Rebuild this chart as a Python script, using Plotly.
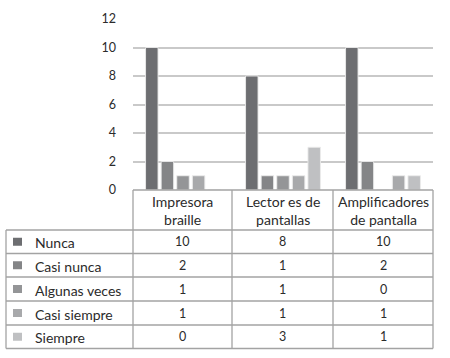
import plotly.graph_objects as go

categories = ["Impresora braille", "Lector es de pantallas", "Amplificadores de pantalla"]
header_labels = ["Impresora<br>braille", "Lector es de<br>pantallas", "Amplificadores<br>de pantalla"]
series_names = ["Nunca", "Casi nunca", "Algunas veces", "Casi siempre", "Siempre"]
nunca = [10, 8, 10]
casi_nunca = [2, 1, 2]
algunas_veces = [1, 1, 0]
casi_siempre = [1, 1, 1]
siempre = [0, 3, 1]
y_ticks = [0, 2, 4, 6, 8, 10, 12]

series_values = [nunca, casi_nunca, algunas_veces, casi_siempre, siempre]
colors = ["#6d6e71", "#848587", "#949597", "#a8a9ab", "#bfc0c2"]

W, H = 450, 358
def px(x):
    return x / W
def py(y):
    return (H - y) / H

FONT = "Lato"
TXT = "#2b2b2b"
LINE = "#a3a3a3"

fig = go.Figure()
for name, vals, c in zip(series_names, series_values, colors):
    fig.add_trace(go.Bar(
        x=categories, y=vals, name=name,
        marker=dict(color=c, line=dict(color="rgba(235,235,235,0.9)", width=1)),
        showlegend=False,
    ))

# table geometry (pixels)
x_left, x_plot, x_end = 6, 133, 433
col_edges = [133, 232, 333, 433]
y_top, y_hdr = 190, 230
row_edges = [230, 253.5, 277, 301, 325, 348.5]

shapes = []
def hline(x0, x1, y):
    shapes.append(dict(type="line", xref="paper", yref="paper",
                       x0=px(x0), x1=px(x1), y0=py(y), y1=py(y),
                       line=dict(color=LINE, width=1.3)))
def vline(x, y0, y1):
    shapes.append(dict(type="line", xref="paper", yref="paper",
                       x0=px(x), x1=px(x), y0=py(y0), y1=py(y1),
                       line=dict(color=LINE, width=1.3)))

hline(x_plot, x_end, y_top)
for ry in row_edges:
    hline(x_left, x_end, ry)
vline(x_left, row_edges[0], row_edges[-1])
for cx in col_edges:
    vline(cx, y_top, row_edges[-1])

annotations = []
# header
for i, lab in enumerate(header_labels):
    cx = (col_edges[i] + col_edges[i + 1]) / 2
    annotations.append(dict(xref="paper", yref="paper", x=px(cx), y=py((y_top + y_hdr) / 2 + 0.5),
                            text=lab, showarrow=False, xanchor="center", yanchor="middle",
                            font=dict(family=FONT, size=14, color=TXT)))
# rows
for r, (name, vals, c) in enumerate(zip(series_names, series_values, colors)):
    yc = (row_edges[r] + row_edges[r + 1]) / 2
    shapes.append(dict(type="rect", xref="paper", yref="paper",
                       x0=px(13), x1=px(22), y0=py(yc - 4), y1=py(yc + 4),
                       fillcolor=c, line=dict(width=0)))
    annotations.append(dict(xref="paper", yref="paper", x=px(33), y=py(yc + 1),
                            text=name, showarrow=False, xanchor="left", yanchor="middle",
                            font=dict(family=FONT, size=14, color=TXT)))
    for i, v in enumerate(vals):
        cx = (col_edges[i] + col_edges[i + 1]) / 2
        annotations.append(dict(xref="paper", yref="paper", x=px(cx), y=py(yc),
                                text=str(v), showarrow=False, xanchor="center", yanchor="middle",
                                font=dict(family=FONT, size=12.5, color=TXT)))

fig.update_layout(
    width=W, height=H, autosize=False,
    margin=dict(l=0, r=0, t=0, b=0, pad=0, autoexpand=False),
    paper_bgcolor="white", plot_bgcolor="white",
    barmode="group", bargap=0.22, bargroupgap=0.2,
    xaxis=dict(domain=[px(133), px(433)], showticklabels=False, showgrid=False,
               zeroline=False, showline=False, ticks=""),
    yaxis=dict(domain=[py(190), py(19)], range=[0, 12], tickvals=y_ticks,
               showgrid=True, gridcolor="#c9c9c9", gridwidth=1.5, zeroline=False,
               showline=False, ticks="", ticklabelstandoff=16,
               tickfont=dict(family=FONT, size=12.5, color=TXT)),
    shapes=shapes, annotations=annotations,
)

fig.write_html("out.html", config={"displayModeBar": False, "responsive": False},
               post_script="document.body.style.margin='0';document.body.style.overflow='hidden';")
